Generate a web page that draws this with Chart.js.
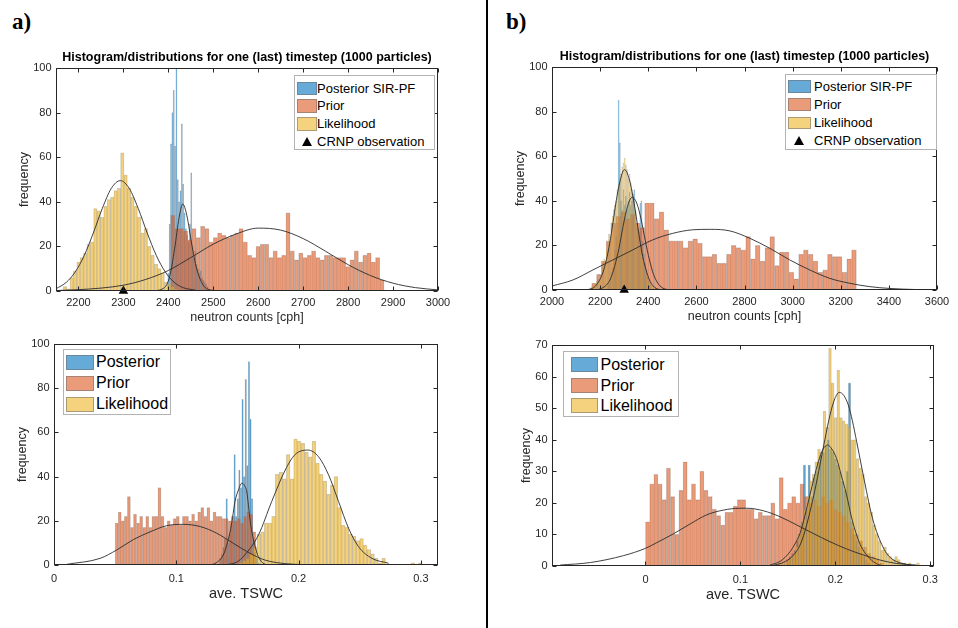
<!DOCTYPE html>
<html lang="en">
<head>
<meta charset="UTF-8">
<title>Histogram/distributions for one (last) timestep (1000 particles)</title>
<script src="https://cdn.jsdelivr.net/npm/chart.js@4.4.1/dist/chart.umd.min.js"></script>
<style>
  body { margin: 0; background: #fff; }
  #page { position: relative; width: 958px; height: 628px; overflow: hidden; font-family: "Liberation Sans", Arial, sans-serif; }
  canvas { position: absolute; }
  .tag { position: absolute; top: 10px; font: bold 23px "Liberation Serif", "Times New Roman", serif; line-height: 1; }
  #divider { position: absolute; left: 486px; top: 0; width: 2px; height: 628px; background: #000; }
  .legend { position: absolute; box-sizing: border-box; background: #fff; border: 1px solid #b3b3b3; }
  .legend .sw { position: absolute; box-sizing: border-box; border: 1px solid rgba(110, 110, 110, 0.55); }
  .legend .tri { position: absolute; width: 0; height: 0; border-left: 5px solid transparent; border-right: 5px solid transparent; border-bottom: 9px solid #000; }
  .legend .txt { position: absolute; white-space: nowrap; color: #000; line-height: 1.2; }
</style>
</head>
<body>
<div id="page">
  <div class="tag" style="left:12px">a)</div>
  <div class="tag" style="left:506px">b)</div>
  <div id="divider"></div>
  <canvas id="aTop"></canvas>
  <canvas id="bTop"></canvas>
  <canvas id="aBot"></canvas>
  <canvas id="bBot"></canvas>
</div>

<script>
// ---------- labels ----------
const chartTitle = 'Histogram/distributions for one (last) timestep (1000 particles)';
const topLegend = ['Posterior SIR-PF', 'Prior', 'Likelihood', 'CRNP observation'];
const bottomLegend = ['Posterior', 'Prior', 'Likelihood'];
const observation = 2300; // CRNP observation [cph]

// ---------- tick labels ----------
const aTopXTicks = [2200, 2300, 2400, 2500, 2600, 2700, 2800, 2900, 3000];
const bTopXTicks = [2000, 2200, 2400, 2600, 2800, 3000, 3200, 3400, 3600];
const tswcXTicks = [0, 0.1, 0.2, 0.3];
const countYTicks = [0, 20, 40, 60, 80, 100];
const bBotYTicks = [0, 10, 20, 30, 40, 50, 60, 70];

// ---------- a) top: neutron counts (bin start, bin width, counts) ----------
const aTopPostStart = 2398.5, aTopPostWidth = 3;
const aTopPost = [8, 30, 66, 80, 90, 65, 104, 50, 40, 45, 75, 48, 35, 28, 25, 22, 30, 53, 20, 15, 18, 12, 10, 8, 9, 6, 5, 4, 3, 2, 1];
const aTopPriorStart = 2405, aTopPriorWidth = 9.5;
const aTopPrior = [34, 28, 28, 27, 23, 28, 24, 29, 28, 22, 24, 26, 25, 24, 25, 26, 28, 22, 16, 15, 20, 21, 21, 15, 18, 15, 16, 35, 18, 14,
                   17, 15, 16, 18, 15, 14, 16, 16, 15, 15, 15, 11, 14, 18, 13, 16, 17, 13, 15, 5];
const aTopLikStart = 2166.25, aTopLikWidth = 7.5;
const aTopLik = [2, 1, 6, 9, 13, 15, 17, 21, 22, 37, 36, 33, 38, 41, 42, 45, 46, 62, 52, 46, 42, 38, 33, 26, 28, 20, 16, 12, 10, 8, 4, 3, 2, 1];
const aTopPostFit = [[2365, 0], [2390, 1.3], [2403, 6.5], [2414, 19], [2424, 33], [2432, 39], [2441, 34], [2452, 21], [2463, 10], [2478, 2.5], [2495, 0.4], [2515, 0]];
const aTopPriorFit = [[2150, 0.2], [2200, 0.6], [2250, 1.3], [2300, 2.6], [2350, 5.2], [2400, 9.2], [2450, 15], [2500, 21], [2550, 25.5], [2600, 28.2],
                      [2650, 27.3], [2700, 23.5], [2750, 17.8], [2800, 11.8], [2850, 6.9], [2900, 3.5], [2950, 1.5], [3000, 0.5]];
const aTopLikFit = [[2150, 1], [2173, 3.9], [2193, 8.6], [2213, 16], [2233, 26], [2253, 37], [2273, 46], [2293, 49.5], [2313, 46], [2333, 37],
                    [2353, 26], [2373, 16], [2393, 8.6], [2413, 3.9], [2433, 1.5], [2460, 0.4]];

// ---------- b) top: neutron counts ----------
const bTopPostStart = 2229.5, bTopPostWidth = 5;
const bTopPost = [2, 3, 5, 8, 10, 14, 18, 24, 30, 85, 66, 40, 36, 45, 38, 42, 36, 40, 44, 38, 40, 43, 45, 36, 30, 28, 26, 39, 40, 22, 16, 12, 9, 6, 4, 2];
const bTopPriorStart = 2165, bTopPriorWidth = 20;
const bTopPrior = [3, 7, 13, 22, 30, 33, 35, 32, 34, 30, 28, 39, 39, 32, 35, 27, 22, 22, 22, 19, 22, 23, 21, 15, 15, 16, 12, 12, 16, 20,
                   19, 18, 24, 14, 20, 13, 19, 24, 11, 17, 17, 8, 5, 16, 18, 16, 13, 8, 9, 16, 15, 15, 8, 14, 18];
const bTopLikStart = 2154.5, bTopLikWidth = 5;
const bTopLik = [1, 1, 2, 1, 3, 2, 4, 5, 7, 6, 10, 12, 14, 13, 18, 21, 25, 24, 30, 33, 36, 38, 40, 45, 47, 50, 52, 55, 57, 59,
                 56, 54, 50, 52, 48, 45, 42, 39, 35, 30, 27, 22, 20, 16, 14, 12, 9, 7, 5, 4, 3, 2, 2, 1, 1];
const bTopPostFit = [[2184, 0], [2205, 0.7], [2226, 2.2], [2243, 5], [2260, 10.5], [2278, 18.5], [2295, 28.4], [2314, 37.5], [2333, 41.6], [2352, 39],
                     [2371, 31.4], [2388, 22], [2405, 13.5], [2422, 7], [2440, 3], [2458, 1], [2475, 0.3], [2500, 0]];
const bTopPriorFit = [[2000, 1.8], [2087, 4.5], [2170, 9], [2253, 13.5], [2336, 18], [2419, 22.5], [2502, 25.4], [2585, 27], [2660, 27.2], [2739, 26.5],
                      [2822, 23.2], [2905, 18.7], [2988, 13.5], [3071, 9], [3155, 5.2], [3238, 3], [3321, 1.5], [3404, 0.7], [3515, 0.2], [3600, 0.1]];
const bTopLikFit = [[2140, 0], [2156, 0.3], [2178, 1.5], [2198, 4.5], [2212, 8], [2226, 13.5], [2240, 21], [2253, 30], [2267, 40], [2281, 48], [2301, 54],
                    [2322, 49.4], [2336, 42], [2350, 33], [2364, 23], [2377, 15], [2391, 9], [2405, 4.5], [2419, 2], [2433, 0.7], [2460, 0]];

// ---------- a) bottom: ave. TSWC ----------
const aBotPostStart = 0.13535, aBotPostWidth = 0.0013;
const aBotPost = [3, 5, 8, 12, 30, 10, 14, 18, 20, 50, 22, 30, 43, 35, 75, 40, 84, 45, 92, 66, 30, 12, 6, 3, 1];
const aBotPriorStart = 0.05, aBotPriorWidth = 0.0025;
const aBotPrior = [19, 24, 20, 22, 31, 17, 23, 19, 22, 17, 22, 17, 22, 22, 35, 22, 17, 20, 18, 21, 22, 18, 22, 22, 20, 23, 20, 24, 26, 22,
                   26, 20, 24, 22, 22, 21, 21, 20, 22, 20, 21, 19, 22, 24, 23, 15];
const aBotLikStart = 0.151, aBotLikWidth = 0.003;
const aBotLik = [1, 2, 3, 5, 8, 14, 15, 19, 19, 22, 41, 42, 39, 50, 39, 57, 56, 55, 51, 49, 56, 46, 41, 38, 32, 36, 40, 26, 18, 17,
                 14, 13, 11, 12, 9, 7, 5, 3, 1, 3, 0, 0, 0, 0, 0, 0, 0, 1, 0, 1];
const aBotPostFit = [[0.126, 0], [0.132, 0.8], [0.1384, 4.5], [0.141, 8.5], [0.144, 15], [0.146, 21.5], [0.148, 28.7], [0.1508, 34], [0.1536, 37], [0.1557, 36],
                     [0.1577, 33], [0.159, 27], [0.1604, 20], [0.1625, 13], [0.1645, 8.3], [0.1665, 4.6], [0.1686, 2.3], [0.1727, 0.3], [0.178, 0]];
const aBotPriorFit = [[0.0104, 0.3], [0.0377, 3], [0.0513, 6.8], [0.0649, 11.5], [0.0786, 15], [0.0922, 17.8], [0.1058, 18.4], [0.1195, 17.4], [0.133, 14.4],
                      [0.1467, 9.8], [0.1603, 5.3], [0.1727, 2.2], [0.1891, 0.6], [0.2027, 0.2]];
const aBotLikFit = [[0.138, 0], [0.149, 1.2], [0.156, 4.5], [0.1672, 13.6], [0.178, 28.7], [0.1891, 43], [0.1972, 50], [0.2076, 52], [0.2163, 49],
                    [0.2245, 40.8], [0.2327, 28.7], [0.2409, 16.6], [0.249, 8.3], [0.26, 3], [0.2736, 0.8]];

// ---------- b) bottom: ave. TSWC ----------
const bBotPostStart = 0.14875, bBotPostWidth = 0.0025;
const bBotPost = [2, 3, 4, 5, 8, 10, 14, 32, 18, 32, 22, 28, 30, 33, 35, 36, 38, 40, 37, 36, 34, 32, 30, 27, 24, 30, 58, 14, 10, 8, 6, 4, 3, 2, 1];
const bBotPriorStart = 0, bBotPriorWidth = 0.0044;
const bBotPrior = [14, 26, 29, 26, 21, 31, 22, 10, 24, 33, 21, 26, 21, 30, 24, 22, 18, 16, 13, 17, 17, 19, 21, 21, 18, 18, 15, 17, 16, 16,
                   20, 15, 28, 18, 20, 22, 20, 26, 22, 20, 21, 19, 22, 20, 21, 18, 17, 16, 14, 12, 10, 8, 6, 4, 3, 2, 1];
const bBotLikStart = 0.14365, bBotLikWidth = 0.0029;
const bBotLik = [1, 1, 2, 3, 4, 6, 10, 14, 18, 22, 27, 29, 33, 37, 36, 49, 44, 69, 58, 47, 62, 47, 46, 45, 44, 40, 40, 34, 31, 29,
                 22, 20, 17, 13, 10, 8, 5, 6, 4, 3, 2, 3, 2, 1, 1, 0, 1, 0, 0, 1];
const bBotPostFit = [[0.1313, 0.3], [0.142, 1.5], [0.1523, 4.5], [0.1575, 7], [0.1628, 10.3], [0.168, 16], [0.1733, 22.5], [0.1777, 28], [0.1821, 33],
                     [0.187, 37], [0.1919, 38.3], [0.1965, 37], [0.2014, 34], [0.2065, 28.5], [0.2119, 22.5], [0.217, 15.5], [0.2225, 9.8], [0.2275, 6],
                     [0.233, 3.5], [0.24, 1.4], [0.247, 0.3], [0.254, 0]];
const bBotPriorFit = [[-0.0898, 0.3], [-0.058, 1.1], [-0.023, 3.3], [0, 5.6], [0.0119, 7.4], [0.0295, 10.2], [0.047, 13.3], [0.0645, 16.2], [0.082, 17.7],
                      [0.0996, 18.3], [0.1067, 18.3], [0.1242, 17.5], [0.1418, 15.6], [0.1593, 13], [0.1768, 10.3], [0.1944, 7.7], [0.2119, 5.4],
                      [0.2295, 3.5], [0.247, 1.9], [0.2645, 0.8], [0.2856, 0.3]];
const bBotLikFit = [[0.1348, 0.2], [0.1435, 0.9], [0.1523, 2.4], [0.1575, 4], [0.1628, 6.6], [0.168, 11], [0.1733, 17.2], [0.1785, 24], [0.1838, 32],
                    [0.189, 40], [0.1944, 47.8], [0.1995, 53], [0.2042, 55], [0.209, 54], [0.2137, 51], [0.218, 46], [0.2225, 39.4], [0.228, 31],
                    [0.233, 23.5], [0.238, 16.5], [0.2435, 10.9], [0.249, 6.8], [0.254, 4], [0.259, 2.4], [0.2645, 1.4], [0.2786, 0.3]];

// ---------- styling ----------
Chart.defaults.font.family = '"Liberation Sans", Arial, sans-serif';
const COL = { post: 'rgba(0,114,189,0.6)', prior: 'rgba(217,83,25,0.58)', lik: 'rgba(237,177,32,0.58)' };
const EDGE = 'rgba(130,130,130,0.4)';
const INK = '#262626';
const YW = 40; // width reserved left of the axes for tick labels + ylabel

function bins(start, width, values) {
  return values.map((v, i) => ({ x: start + width * (i + 0.5), y: v }));
}
function barSet(data, axis, color, order) {
  return {
    type: 'bar', data: data, xAxisID: axis, backgroundColor: color, borderColor: EDGE, borderWidth: 0.6,
    barPercentage: 1, categoryPercentage: 1, grouped: false, order: order, clip: 0
  };
}
function fitSet(points) {
  return {
    type: 'line', data: points.map(p => ({ x: p[0], y: p[1] })), xAxisID: 'x', borderColor: '#2b2b2b', borderWidth: 0.9,
    pointRadius: 0, tension: 0.4, cubicInterpolationMode: 'monotone', fill: false, order: 0, clip: 0
  };
}

// box round the axes with ticks pointing inward (MATLAB look)
const frame = {
  id: 'frame',
  afterDraw(chart) {
    const { ctx, chartArea: a, scales } = chart;
    const L = Math.round(a.left) + 0.5, R = Math.round(a.right) - 0.5;
    const T = Math.round(a.top) + 0.5, B = Math.round(a.bottom) - 0.5;
    ctx.save();
    ctx.strokeStyle = INK;
    ctx.lineWidth = 1;
    ctx.beginPath();
    scales.x.ticks.forEach(t => {
      const px = Math.round(scales.x.getPixelForValue(t.value)) + 0.5;
      ctx.moveTo(px, B); ctx.lineTo(px, B - 4);
      ctx.moveTo(px, T); ctx.lineTo(px, T + 4);
    });
    scales.y.ticks.forEach(t => {
      const py = Math.round(scales.y.getPixelForValue(t.value)) + 0.5;
      ctx.moveTo(L, py); ctx.lineTo(L + 4, py);
      ctx.moveTo(R, py); ctx.lineTo(R - 4, py);
    });
    ctx.stroke();
    ctx.strokeRect(L, T, R - L, B - T);
    ctx.restore();
  }
};

function makePanel(p) {
  const cv = document.getElementById(p.id);
  const padTop = p.title ? 0 : 14;
  const titleH = p.title ? 22 : 0;
  cv.width = YW + p.plotW + 20;
  cv.height = padTop + titleH + p.plotH + p.xh;
  cv.style.left = (p.plotLeft - YW) + 'px';
  cv.style.top = (p.plotTop - padTop - titleH) + 'px';

  const hidden = { type: 'linear', display: false, offset: false, min: p.xMin, max: p.xMax };
  const datasets = [
    fitSet(p.postFit), fitSet(p.priorFit), fitSet(p.likFit),
    barSet(p.lik, 'xl', COL.lik, 1),
    barSet(p.prior, 'xp', COL.prior, 2),
    barSet(p.post, 'xq', COL.post, 3)
  ];
  if (p.obs !== undefined) {
    datasets.unshift({
      type: 'scatter', data: [{ x: p.obs, y: 0 }], xAxisID: 'x', pointStyle: 'triangle', pointRadius: 5.5,
      backgroundColor: '#000', borderWidth: 0, order: -1, clip: false
    });
  }

  new Chart(cv, {
    type: 'bar',
    data: { datasets: datasets },
    options: {
      responsive: false,
      animation: false,
      events: [],
      layout: { padding: { top: padTop, right: 20, bottom: 0, left: 0 } },
      plugins: {
        legend: { display: false },
        tooltip: { enabled: false },
        title: {
          display: !!p.title, text: chartTitle, color: '#000', fullSize: false,
          font: { size: 12.5, weight: 'bold' }, padding: { top: 4, bottom: 3 }
        }
      },
      scales: {
        x: {
          type: 'linear', offset: false, min: p.xMin, max: p.xMax,
          afterBuildTicks: s => { s.ticks = p.xTicks.map(v => ({ value: v })); },
          afterFit: s => { s.height = p.xh; },
          grid: { display: false, drawTicks: false },
          border: { display: false },
          ticks: { color: INK, font: { size: 11 }, padding: p.xPad, maxRotation: 0, autoSkip: false, callback: v => String(v) },
          title: { display: true, text: p.xLabel, color: INK, font: { size: p.xLabelSize }, padding: { top: 0, bottom: 0 } }
        },
        y: {
          type: 'linear', min: 0, max: p.yMax,
          afterBuildTicks: s => { s.ticks = p.yTicks.map(v => ({ value: v })); },
          afterFit: s => { s.width = YW; },
          grid: { display: false, drawTicks: false },
          border: { display: false },
          ticks: { color: INK, font: { size: 11 }, padding: 4.5, autoSkip: false, callback: v => String(v) },
          title: { display: true, text: 'frequency', color: INK, font: { size: 12.5 }, padding: { top: p.yLabelPad, bottom: 0 } }
        },
        xq: hidden, xp: hidden, xl: hidden
      }
    },
    plugins: [frame]
  });
}

const panels = [
  { id: 'aTop', plotLeft: 56, plotTop: 68, plotW: 382, plotH: 223, xh: 34, title: true, xMin: 2150, xMax: 3000, yMax: 100, yLabelPad: 1,
    xTicks: aTopXTicks, yTicks: countYTicks, xPad: 5.6, xLabel: 'neutron counts [cph]', xLabelSize: 12.5, obs: observation,
    post: bins(aTopPostStart, aTopPostWidth, aTopPost), prior: bins(aTopPriorStart, aTopPriorWidth, aTopPrior), lik: bins(aTopLikStart, aTopLikWidth, aTopLik),
    postFit: aTopPostFit, priorFit: aTopPriorFit, likFit: aTopLikFit },
  { id: 'bTop', plotLeft: 552, plotTop: 67, plotW: 385, plotH: 223, xh: 34, title: true, xMin: 2000, xMax: 3600, yMax: 100, yLabelPad: 1,
    xTicks: bTopXTicks, yTicks: countYTicks, xPad: 5.6, xLabel: 'neutron counts [cph]', xLabelSize: 12.5, obs: observation,
    post: bins(bTopPostStart, bTopPostWidth, bTopPost), prior: bins(bTopPriorStart, bTopPriorWidth, bTopPrior), lik: bins(bTopLikStart, bTopLikWidth, bTopLik),
    postFit: bTopPostFit, priorFit: bTopPriorFit, likFit: bTopLikFit },
  { id: 'aBot', plotLeft: 54, plotTop: 344, plotW: 384, plotH: 221, xh: 38, title: false, xMin: 0, xMax: 0.314, yMax: 100, yLabelPad: 1,
    xTicks: tswcXTicks, yTicks: countYTicks, xPad: 7.4, xLabel: 'ave. TSWC', xLabelSize: 14.5,
    post: bins(aBotPostStart, aBotPostWidth, aBotPost), prior: bins(aBotPriorStart, aBotPriorWidth, aBotPrior), lik: bins(aBotLikStart, aBotLikWidth, aBotLik),
    postFit: aBotPostFit, priorFit: aBotPriorFit, likFit: aBotLikFit },
  { id: 'bBot', plotLeft: 552, plotTop: 345, plotW: 382, plotH: 221, xh: 38, title: false, xMin: -0.0985, xMax: 0.304, yMax: 70, yLabelPad: 7,
    xTicks: tswcXTicks, yTicks: bBotYTicks, xPad: 7.4, xLabel: 'ave. TSWC', xLabelSize: 14.5,
    post: bins(bBotPostStart, bBotPostWidth, bBotPost), prior: bins(bBotPriorStart, bBotPriorWidth, bBotPrior), lik: bins(bBotLikStart, bBotLikWidth, bBotLik),
    postFit: bBotPostFit, priorFit: bBotPriorFit, likFit: bBotLikFit }
];
panels.forEach(makePanel);

// legends drawn in html, boxed inside the axes like the original
const legendColors = [COL.post, COL.prior, COL.lik, null];
const legends = [
  { x: 294, y: 75, w: 141, h: 75, sw: [1.5, 20, 13.5], tx: 22, y0: 12.5, gap: 17.7, font: 13, labels: topLegend },
  { x: 785, y: 74, w: 152, h: 76, sw: [1.7, 23, 12.5], tx: 28, y0: 11.3, gap: 18.3, font: 13, labels: topLegend },
  { x: 63, y: 349, w: 108, h: 66, sw: [2, 28, 15], tx: 32, y0: 12, gap: 21, font: 16, labels: bottomLegend },
  { x: 563, y: 351, w: 116, h: 66, sw: [7, 27, 15], tx: 36.5, y0: 12.3, gap: 20.8, font: 16, labels: bottomLegend }
];
const page = document.getElementById('page');
legends.forEach(lg => {
  const box = document.createElement('div');
  box.className = 'legend';
  Object.assign(box.style, { left: lg.x + 'px', top: lg.y + 'px', width: lg.w + 'px', height: lg.h + 'px' });
  lg.labels.forEach((label, i) => {
    const cy = lg.y0 + i * lg.gap;
    if (legendColors[i]) {
      const sw = document.createElement('div');
      sw.className = 'sw';
      Object.assign(sw.style, { left: lg.sw[0] + 'px', top: (cy - lg.sw[2] / 2) + 'px', width: lg.sw[1] + 'px', height: lg.sw[2] + 'px', background: legendColors[i] });
      box.appendChild(sw);
    } else {
      const tri = document.createElement('div');
      tri.className = 'tri';
      Object.assign(tri.style, { left: (lg.sw[0] + lg.sw[1] / 2 - 5) + 'px', top: (cy - 5) + 'px' });
      box.appendChild(tri);
    }
    const txt = document.createElement('div');
    txt.className = 'txt';
    txt.textContent = label;
    Object.assign(txt.style, { left: lg.tx + 'px', top: (cy - lg.font * 0.6) + 'px', fontSize: lg.font + 'px' });
    box.appendChild(txt);
  });
  page.appendChild(box);
});
</script>
</body>
</html>
